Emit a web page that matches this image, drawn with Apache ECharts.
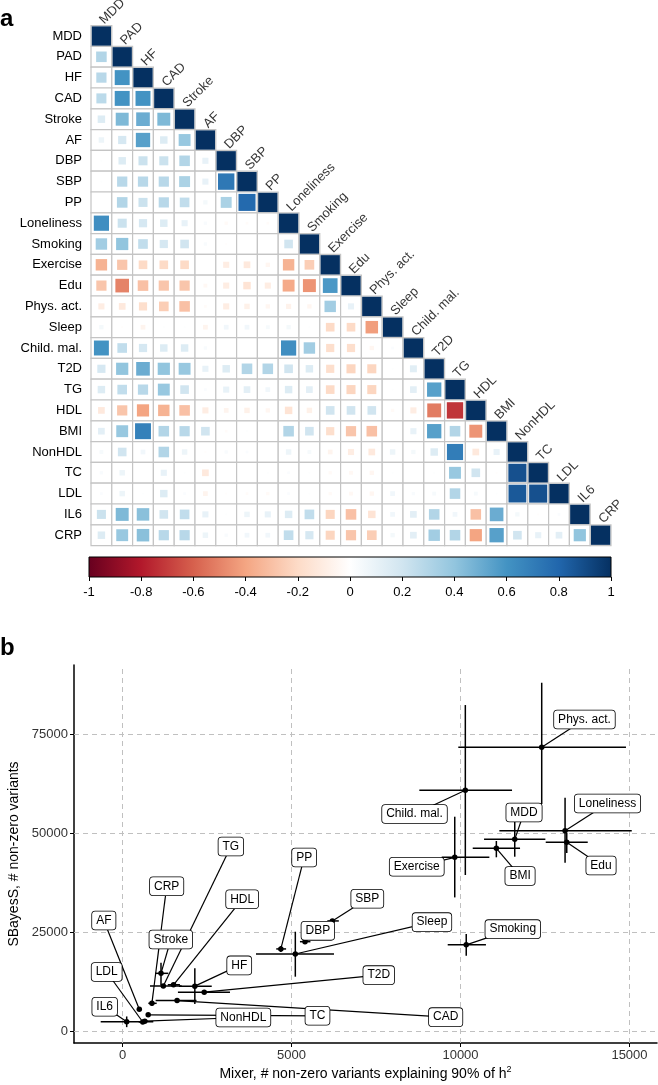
<!DOCTYPE html>
<html>
<head>
<meta charset="utf-8">
<script src="https://cdn.jsdelivr.net/npm/echarts@6/dist/echarts.min.js"></script>
<style>
  html, body { margin: 0; padding: 0; background: #fff; }
  #main { width: 658px; height: 1085px; }
</style>
</head>
<body>
<div id="main"></div>
<script>
// panel a: trait names and lower triangle of the genetic correlation matrix
var traitsA = ['MDD', 'PAD', 'HF', 'CAD', 'Stroke', 'AF', 'DBP', 'SBP', 'PP', 'Loneliness',
  'Smoking', 'Exercise', 'Edu', 'Phys. act.', 'Sleep', 'Child. mal.', 'T2D', 'TG', 'HDL',
  'BMI', 'NonHDL', 'TC', 'LDL', 'IL6', 'CRP'];

var corrRows = [
  [],
  [0.30],
  [0.28, 0.60],
  [0.27, 0.60, 0.60],
  [0.15, 0.45, 0.50, 0.45],
  [0.08, 0.18, 0.55, 0.15, 0.38],
  [0.01, 0.15, 0.22, 0.22, 0.30, 0.10],
  [0.01, 0.28, 0.28, 0.28, 0.32, 0.10, 0.72],
  [0.00, 0.30, 0.22, 0.28, 0.25, 0.05, 0.32, 0.78],
  [0.62, 0.22, 0.18, 0.15, 0.10, 0.03, -0.03, -0.02, -0.02],
  [0.35, 0.40, 0.25, 0.18, 0.20, 0.03, -0.01, 0.00, 0.00, 0.20],
  [-0.35, -0.28, -0.20, -0.20, -0.20, 0.00, -0.10, -0.12, -0.05, -0.35, -0.25],
  [-0.28, -0.50, -0.30, -0.28, -0.28, -0.04, -0.10, -0.15, -0.10, -0.38, -0.45, 0.58],
  [-0.10, -0.12, -0.18, -0.25, -0.30, -0.02, -0.10, -0.08, -0.05, -0.07, -0.05, 0.35, 0.10],
  [0.05, -0.01, -0.06, 0.01, 0.01, -0.06, 0.06, 0.06, 0.04, 0.05, 0.01, -0.20, -0.20, -0.42],
  [0.60, 0.25, 0.18, 0.15, 0.15, 0.03, 0.00, 0.00, 0.00, 0.62, 0.35, -0.18, -0.18, -0.05, 0.02],
  [0.18, 0.40, 0.50, 0.40, 0.38, 0.10, 0.15, 0.30, 0.30, 0.20, 0.15, -0.18, -0.22, -0.22, 0.01, 0.13],
  [0.15, 0.25, 0.28, 0.38, 0.20, 0.02, 0.10, 0.12, 0.06, 0.15, 0.12, -0.20, -0.22, -0.22, 0.01, 0.12, 0.55],
  [-0.12, -0.28, -0.40, -0.35, -0.30, -0.10, -0.06, -0.08, -0.05, -0.15, -0.08, 0.20, 0.20, 0.20, -0.03, -0.10, -0.52, -0.72],
  [0.12, 0.38, 0.68, 0.30, 0.28, 0.20, -0.02, 0.01, 0.00, 0.30, 0.20, -0.18, -0.28, -0.30, 0.00, 0.10, 0.55, 0.30, -0.45],
  [0.04, 0.20, 0.06, 0.30, 0.08, -0.01, 0.03, 0.02, 0.00, 0.08, 0.04, -0.06, -0.10, -0.12, 0.08, 0.05, 0.15, 0.70, -0.12, 0.10],
  [0.03, 0.08, 0.00, 0.10, 0.01, -0.12, 0.00, 0.00, 0.01, 0.02, 0.01, -0.03, -0.04, -0.05, 0.01, 0.00, 0.01, 0.38, 0.20, -0.01, 0.88],
  [0.02, 0.08, 0.01, 0.15, 0.02, -0.06, -0.01, -0.02, -0.03, 0.02, 0.01, -0.03, -0.04, -0.05, 0.06, 0.03, 0.04, 0.30, 0.04, 0.01, 0.85, 0.88],
  [0.22, 0.45, 0.42, 0.20, 0.25, 0.10, 0.01, 0.08, 0.10, 0.15, 0.25, -0.22, -0.30, -0.15, 0.06, 0.12, 0.30, 0.06, -0.30, 0.50, 0.05, -0.01, 0.02],
  [0.15, 0.38, 0.42, 0.28, 0.28, 0.08, 0.03, 0.06, 0.06, 0.25, 0.18, -0.22, -0.28, -0.25, 0.05, 0.12, 0.35, 0.30, -0.40, 0.55, 0.20, 0.10, 0.12, 0.40]
];

var colorbarTicks = [-1, 1];

// panel b: Mixer vs SBayesS estimates with intervals, plus label anchors (data units)
var traitsB = ['Phys. act.', 'Child. mal.', 'MDD', 'Loneliness', 'Edu', 'BMI', 'Exercise', 'Smoking',
  'Sleep', 'PP', 'SBP', 'DBP', 'T2D', 'HF', 'HDL', 'CRP', 'TG', 'Stroke', 'AF', 'LDL', 'IL6',
  'NonHDL', 'TC', 'CAD'];
var mixerEst = [12403, 10143, 11605, 13094, 13144, 11061, 9830, 10170, 5113, 4685, 6210, 5400, 2418, 2140, 1510, 870, 1208, 1139, 497, 600, 124, 660, 760, 1615];
var mixerLo  = [9935, 8782, 10697, 11150, 12522, 10362, 9445, 9622, 3950, 4549, 6060, 5250, 1640, 1670, 1340, 764, 814, 962, 430, 480, -645, 560, 700, 980];
var mixerHi  = [14896, 11525, 12511, 15067, 13765, 11762, 10854, 10753, 6257, 4840, 6400, 5560, 3180, 2640, 1700, 1011, 1751, 1355, 570, 720, 911, 760, 830, 2190];
var sbayesEst = [71760, 60903, 48530, 50700, 47770, 46250, 43985, 21890, 19570, 20850, 27920, 22680, 9920, 11450, 11800, 7120, 11490, 14690, 5600, 2400, 2480, 2600, 4210, 7800];
var sbayesLo  = [57444, 39520, 44140, 42620, 45070, 43990, 33860, 19110, 13840, 20100, 27500, 22100, 9500, 6950, 11500, 6500, 11200, 11740, 5300, 2150, 1100, 2350, 3950, 7550];
var sbayesHi  = [88070, 82440, 52975, 59040, 50120, 48100, 54240, 24590, 25200, 21600, 28400, 23300, 10400, 15980, 12100, 7700, 11800, 17370, 5900, 2650, 3800, 2850, 4450, 8050];
var labelX = [13668, 8640, 11880, 14350, 14158, 11762, 8706, 11547, 9156, 5375, 7243, 5779, 7581, 3454, 3541, 1307, 3206, 1429, -553, -468, -527, 3575, 5769, 9562];
var labelY = [78780, 54920, 55300, 57570, 41915, 39260, 41610, 25850, 27620, 43950, 33510, 25420, 14230, 16690, 33410, 36690, 46710, 23230, 28030, 15020, 6260, 3540, 3970, 3620];
var xTicksB = [0, 5000, 10000, 15000];
var yTicksB = [0, 25000, 50000, 75000];

var rdbu = ['#67001F', '#B2182B', '#D6604D', '#F4A582', '#FDDBC7', '#FFFFFF',
  '#D1E5F0', '#92C5DE', '#4393C3', '#2166AC', '#053061'];
var FONT = 'Liberation Sans, Arial, Helvetica, sans-serif';

var cell = 520 / traitsA.length;
var cells = [], squares = [], diag = [];
for (var i = 0; i < traitsA.length; i++) {
  for (var j = 0; j <= i; j++) {
    cells.push([j, i]);
    squares.push([j, i, i === j ? 1 : corrRows[i][j]]);
  }
  diag.push([i, i, traitsA[i]]);
}

var errData = [], leadData = [], pointData = [], boxData = [];
for (var k = 0; k < traitsB.length; k++) {
  errData.push([mixerEst[k], sbayesEst[k], mixerLo[k], mixerHi[k], sbayesLo[k], sbayesHi[k]]);
  leadData.push([mixerEst[k], sbayesEst[k], labelX[k], labelY[k]]);
  pointData.push([mixerEst[k], sbayesEst[k]]);
  boxData.push([labelX[k], labelY[k]]);
}

var stops = rdbu.map(function (c, idx) {
  return { offset: idx / (rdbu.length - 1), color: c };
});

function plainNum(v) { return String(v); }

var chart = echarts.init(document.getElementById('main'), null, { renderer: 'canvas' });

var option = {
  animation: false,
  backgroundColor: '#fff',
  textStyle: { fontFamily: FONT },
  graphic: [
    { type: 'text', left: 0, top: 7, style: { text: 'a', font: 'bold 24px ' + FONT, fill: '#000' } },
    { type: 'text', left: 0, top: 636, style: { text: 'b', font: 'bold 24px ' + FONT, fill: '#000' } }
  ],
  visualMap: {
    show: false,
    type: 'continuous',
    seriesIndex: 1,
    dimension: 2,
    min: -1,
    max: 1,
    inRange: { color: rdbu }
  },
  grid: [
    { left: 91, top: 25.6, width: 520, height: 520, outerBoundsMode: 'none' },
    { left: 89, top: 557, width: 522, height: 20, outerBoundsMode: 'none' },
    { left: 74, top: 665, width: 583, height: 378, outerBoundsMode: 'none' }
  ],
  xAxis: [
    { gridIndex: 0, type: 'category', data: traitsA, show: false },
    {
      gridIndex: 1, type: 'value', min: colorbarTicks[0], max: colorbarTicks[1], interval: 0.2,
      axisLine: { show: false },
      axisTick: { show: true, length: 4, lineStyle: { color: '#000' } },
      axisLabel: { fontSize: 13, color: '#000', margin: 9 },
      splitLine: { show: false }
    },
    {
      gridIndex: 2, type: 'value', min: -1435, max: 15814,
      name: 'Mixer, # non-zero variants explaining 90% of h{sup|2}',
      nameLocation: 'middle', nameGap: 22,
      nameTextStyle: { fontSize: 14, color: '#000', rich: { sup: { fontSize: 9, padding: [0, 0, 9, 0], color: '#000' } } },
      axisLine: { show: true, onZero: false, lineStyle: { color: '#000', width: 1.5 } },
      axisTick: { show: true, customValues: xTicksB, length: 4, lineStyle: { color: '#000' } },
      axisLabel: { customValues: xTicksB, formatter: plainNum, fontSize: 13, color: '#333', margin: 6 },
      splitLine: { show: false }
    }
  ],
  yAxis: [
    {
      gridIndex: 0, type: 'category', data: traitsA, inverse: true,
      axisLine: { show: false }, axisTick: { show: false },
      axisLabel: { fontSize: 13, color: '#000', margin: 9 }
    },
    { gridIndex: 1, type: 'value', min: 0, max: 1, show: false },
    {
      gridIndex: 2, type: 'value', min: -2904, max: 92551,
      name: 'SBayesS, # non-zero variants',
      nameLocation: 'middle', nameGap: 36,
      nameTextStyle: { fontSize: 14, color: '#000' },
      axisLine: { show: true, onZero: false, lineStyle: { color: '#000', width: 1.5 } },
      axisTick: { show: true, customValues: yTicksB, length: 4, lineStyle: { color: '#000' } },
      axisLabel: { customValues: yTicksB, formatter: plainNum, fontSize: 13, color: '#333', margin: 6 },
      splitLine: { show: false }
    }
  ],
  series: [
    // grey cell grid of the lower triangle
    {
      type: 'scatter', xAxisIndex: 0, yAxisIndex: 0, silent: true,
      symbol: 'rect', symbolSize: cell,
      itemStyle: { color: '#fff', borderColor: '#c4c4c4', borderWidth: 1.2, opacity: 1 },
      data: cells, z: 1
    },
    // coloured squares, side ~ sqrt(|r|)
    {
      type: 'scatter', xAxisIndex: 0, yAxisIndex: 0, silent: true,
      symbol: 'rect',
      symbolSize: function (val) { return (cell - 1.5) * Math.sqrt(Math.abs(val[2])); },
      itemStyle: { opacity: 1 },
      data: squares, z: 2
    },
    // diagonal column labels
    {
      type: 'scatter', xAxisIndex: 0, yAxisIndex: 0, silent: true,
      symbol: 'rect', symbolSize: cell,
      itemStyle: { color: 'rgba(0,0,0,0)' },
      label: {
        show: true,
        formatter: function (p) { return p.data[2]; },
        position: [cell / 2 + 5, 1],
        rotate: 45,
        align: 'left',
        verticalAlign: 'bottom',
        fontSize: 13,
        color: '#000'
      },
      data: diag, z: 3
    },
    // colour bar
    {
      type: 'custom', xAxisIndex: 1, yAxisIndex: 1, silent: true,
      data: [[-1, 0]],
      encode: { x: 0, y: 1 },
      renderItem: function (params, api) {
        var p0 = api.coord([-1, 1]);
        var p1 = api.coord([1, 0]);
        return {
          type: 'rect',
          shape: { x: p0[0], y: p0[1], width: p1[0] - p0[0], height: p1[1] - p0[1] },
          style: { fill: new echarts.graphic.LinearGradient(0, 0, 1, 0, stops), stroke: '#000', lineWidth: 1 }
        };
      }
    },
    // dashed major grid lines for panel b
    {
      type: 'scatter', xAxisIndex: 2, yAxisIndex: 2, silent: true, data: [],
      markLine: {
        silent: true, z: 1, symbol: ['none', 'none'], label: { show: false },
        lineStyle: { color: '#c0c0c0', type: [5, 4], width: 1 },
        data: xTicksB.map(function (v) { return { xAxis: v }; })
          .concat(yTicksB.map(function (v) { return { yAxis: v }; }))
      }
    },
    // error bars
    {
      type: 'custom', xAxisIndex: 2, yAxisIndex: 2, silent: true, z: 3,
      data: errData,
      encode: { x: 0, y: 1 },
      renderItem: function (params, api) {
        var x = api.value(0), y = api.value(1);
        var h0 = api.coord([api.value(2), y]), h1 = api.coord([api.value(3), y]);
        var v0 = api.coord([x, api.value(4)]), v1 = api.coord([x, api.value(5)]);
        var st = { stroke: '#000', lineWidth: 1.5 };
        return {
          type: 'group',
          children: [
            { type: 'line', shape: { x1: h0[0], y1: h0[1], x2: h1[0], y2: h1[1] }, style: st },
            { type: 'line', shape: { x1: v0[0], y1: v0[1], x2: v1[0], y2: v1[1] }, style: st }
          ]
        };
      }
    },
    // label leader segments
    {
      type: 'custom', xAxisIndex: 2, yAxisIndex: 2, silent: true, z: 4,
      data: leadData,
      encode: { x: 0, y: 1 },
      renderItem: function (params, api) {
        var p = api.coord([api.value(0), api.value(1)]);
        var l = api.coord([api.value(2), api.value(3)]);
        return {
          type: 'line',
          shape: { x1: l[0], y1: l[1], x2: p[0], y2: p[1] },
          style: { stroke: '#000', lineWidth: 1.2 }
        };
      }
    },
    // point estimates
    {
      type: 'scatter', xAxisIndex: 2, yAxisIndex: 2, silent: true, z: 5,
      symbolSize: 5.5,
      itemStyle: { color: '#000', opacity: 1 },
      data: pointData
    },
    // boxed labels
    {
      type: 'custom', xAxisIndex: 2, yAxisIndex: 2, silent: true, z: 6,
      data: boxData,
      encode: { x: 0, y: 1 },
      renderItem: function (params, api) {
        var c = api.coord([api.value(0), api.value(1)]);
        return {
          type: 'text',
          style: {
            text: traitsB[params.dataIndex],
            x: c[0], y: c[1],
            align: 'center', verticalAlign: 'middle',
            font: '12px ' + FONT,
            fill: '#000',
            backgroundColor: '#fff',
            borderColor: '#000',
            borderWidth: 0.8,
            borderRadius: 3,
            padding: [3, 4, 3, 4]
          }
        };
      }
    }
  ]
};

chart.setOption(option);
</script>
</body>
</html>
